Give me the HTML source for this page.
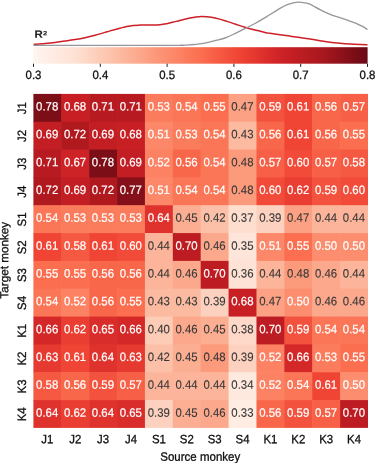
<!DOCTYPE html>
<html><head><meta charset="utf-8"><title>R2 heatmap</title>
<style>
html,body{margin:0;padding:0;background:#fff;}
body{width:375px;height:463px;overflow:hidden;}
svg{display:block;will-change:transform;}
text{font-family:"Liberation Sans",sans-serif;}
</style></head><body>
<svg width="375" height="463" viewBox="0 0 375 463">
<defs><linearGradient id="cb" x1="0" y1="0" x2="1" y2="0">
<stop offset="0.0000" stop-color="#fff5f1"/>
<stop offset="0.0312" stop-color="#fff0e9"/>
<stop offset="0.0625" stop-color="#ffebe2"/>
<stop offset="0.0938" stop-color="#fee6db"/>
<stop offset="0.1250" stop-color="#fee1d3"/>
<stop offset="0.1562" stop-color="#fed8c8"/>
<stop offset="0.1875" stop-color="#fdcfbc"/>
<stop offset="0.2188" stop-color="#fdc6b0"/>
<stop offset="0.2500" stop-color="#fcbda4"/>
<stop offset="0.2812" stop-color="#fcb399"/>
<stop offset="0.3125" stop-color="#fca98d"/>
<stop offset="0.3438" stop-color="#fc9f82"/>
<stop offset="0.3750" stop-color="#fc9577"/>
<stop offset="0.4062" stop-color="#fc8c6d"/>
<stop offset="0.4375" stop-color="#fc8263"/>
<stop offset="0.4688" stop-color="#fb7859"/>
<stop offset="0.5000" stop-color="#fb6f50"/>
<stop offset="0.5312" stop-color="#f86349"/>
<stop offset="0.5625" stop-color="#f55841"/>
<stop offset="0.5938" stop-color="#f24c3a"/>
<stop offset="0.6250" stop-color="#ee4133"/>
<stop offset="0.6562" stop-color="#e63930"/>
<stop offset="0.6875" stop-color="#dd302c"/>
<stop offset="0.7188" stop-color="#d42828"/>
<stop offset="0.7500" stop-color="#cb2025"/>
<stop offset="0.7812" stop-color="#c11e23"/>
<stop offset="0.8125" stop-color="#b81c21"/>
<stop offset="0.8438" stop-color="#ae191f"/>
<stop offset="0.8750" stop-color="#a4171d"/>
<stop offset="0.9062" stop-color="#95131b"/>
<stop offset="0.9375" stop-color="#861019"/>
<stop offset="0.9688" stop-color="#760c17"/>
<stop offset="1.0000" stop-color="#690916"/>
</linearGradient></defs>
<rect x="0" y="0" width="375" height="463" fill="#fff"/>
<rect x="33.2" y="47.2" width="334.4" height="16.5" fill="url(#cb)"/>
<path d="M33.80 44.30 C35.67 44.15 41.47 43.72 45.00 43.40 C48.53 43.08 51.67 42.78 55.00 42.40 C58.33 42.02 61.67 41.57 65.00 41.10 C68.33 40.63 71.67 40.17 75.00 39.60 C78.33 39.03 81.67 38.42 85.00 37.70 C88.33 36.98 91.67 36.18 95.00 35.30 C98.33 34.42 102.50 33.13 105.00 32.40 C107.50 31.67 107.50 31.58 110.00 30.90 C112.50 30.22 117.22 29.05 120.00 28.30 C122.78 27.55 124.48 26.88 126.70 26.40 C128.92 25.92 131.08 25.62 133.30 25.40 C135.52 25.18 137.22 25.17 140.00 25.10 C142.78 25.03 146.67 25.07 150.00 25.00 C153.33 24.93 157.22 24.92 160.00 24.70 C162.78 24.48 164.48 24.13 166.70 23.70 C168.92 23.27 171.08 22.65 173.30 22.10 C175.52 21.55 177.22 21.08 180.00 20.40 C182.78 19.72 187.33 18.58 190.00 18.00 C192.67 17.42 194.08 17.17 196.00 16.90 C197.92 16.63 199.67 16.42 201.50 16.40 C203.33 16.38 204.75 16.52 207.00 16.80 C209.25 17.08 212.00 17.45 215.00 18.10 C218.00 18.75 221.67 19.72 225.00 20.70 C228.33 21.68 231.67 22.90 235.00 24.00 C238.33 25.10 241.67 26.28 245.00 27.30 C248.33 28.32 251.67 29.25 255.00 30.10 C258.33 30.95 262.50 31.87 265.00 32.40 C267.50 32.93 267.50 32.90 270.00 33.30 C272.50 33.70 276.67 34.33 280.00 34.80 C283.33 35.27 286.67 35.65 290.00 36.10 C293.33 36.55 296.67 37.00 300.00 37.50 C303.33 38.00 306.67 38.57 310.00 39.10 C313.33 39.63 316.67 40.18 320.00 40.70 C323.33 41.22 326.67 41.77 330.00 42.20 C333.33 42.63 336.67 42.98 340.00 43.30 C343.33 43.62 346.67 43.88 350.00 44.10 C353.33 44.32 357.08 44.48 360.00 44.60 C362.92 44.72 366.25 44.77 367.50 44.80" fill="none" stroke="#cd1f27" stroke-width="1.5" stroke-linejoin="round"/>
<path d="M33.30 45.30 C56.08 45.30 145.38 45.32 170.00 45.30 C194.62 45.27 177.67 45.23 181.00 45.15 C184.33 45.07 186.83 45.01 190.00 44.80 C193.17 44.59 196.67 44.38 200.00 43.90 C203.33 43.42 207.50 42.43 210.00 41.90 C212.50 41.37 212.50 41.35 215.00 40.70 C217.50 40.05 221.67 39.18 225.00 38.00 C228.33 36.82 231.67 35.17 235.00 33.60 C238.33 32.03 241.67 30.28 245.00 28.60 C248.33 26.92 251.67 25.32 255.00 23.50 C258.33 21.68 262.50 19.20 265.00 17.70 C267.50 16.20 267.50 16.07 270.00 14.50 C272.50 12.93 277.22 9.92 280.00 8.30 C282.78 6.68 284.48 5.72 286.70 4.80 C288.92 3.88 291.30 3.25 293.30 2.80 C295.30 2.35 296.75 2.10 298.70 2.10 C300.65 2.10 303.12 2.45 305.00 2.80 C306.88 3.15 308.62 3.67 310.00 4.20 C311.38 4.73 311.63 5.10 313.30 6.00 C314.97 6.90 317.77 8.45 320.00 9.60 C322.23 10.75 324.48 11.90 326.70 12.90 C328.92 13.90 331.08 14.80 333.30 15.60 C335.52 16.40 338.05 17.07 340.00 17.70 C341.95 18.33 343.33 18.83 345.00 19.40 C346.67 19.97 348.33 20.52 350.00 21.10 C351.67 21.68 353.00 22.05 355.00 22.90 C357.00 23.75 359.92 25.10 362.00 26.20 C364.08 27.30 366.58 28.95 367.50 29.50" fill="none" stroke="#96969c" stroke-width="1.35" stroke-linejoin="round"/>
<text transform="translate(34.4 37.75) rotate(0.03) scale(1.1 1)" font-size="10.4" font-weight="bold" fill="#222" stroke="#222" stroke-width="0.12">R</text><text transform="translate(42.9 35.3) rotate(0.03) scale(1.25 1)" font-size="6.1" font-weight="bold" fill="#222" stroke="#222" stroke-width="0.1">2</text>
<rect x="33.00" y="63.7" width="1" height="3.2" fill="#222"/>
<text transform="translate(33.50 78.9) rotate(0.03) scale(0.975 1.035)" font-size="11.7" text-anchor="middle" fill="#111" stroke="#111" stroke-width="0.3">0.3</text>
<rect x="99.80" y="63.7" width="1" height="3.2" fill="#222"/>
<text transform="translate(100.30 78.9) rotate(0.03) scale(0.975 1.035)" font-size="11.7" text-anchor="middle" fill="#111" stroke="#111" stroke-width="0.3">0.4</text>
<rect x="166.60" y="63.7" width="1" height="3.2" fill="#222"/>
<text transform="translate(167.10 78.9) rotate(0.03) scale(0.975 1.035)" font-size="11.7" text-anchor="middle" fill="#111" stroke="#111" stroke-width="0.3">0.5</text>
<rect x="233.40" y="63.7" width="1" height="3.2" fill="#222"/>
<text transform="translate(233.90 78.9) rotate(0.03) scale(0.975 1.035)" font-size="11.7" text-anchor="middle" fill="#111" stroke="#111" stroke-width="0.3">0.6</text>
<rect x="300.20" y="63.7" width="1" height="3.2" fill="#222"/>
<text transform="translate(300.70 78.9) rotate(0.03) scale(0.975 1.035)" font-size="11.7" text-anchor="middle" fill="#111" stroke="#111" stroke-width="0.3">0.7</text>
<rect x="367.00" y="63.7" width="1" height="3.2" fill="#222"/>
<text transform="translate(367.50 78.9) rotate(0.03) scale(0.975 1.035)" font-size="11.7" text-anchor="middle" fill="#111" stroke="#111" stroke-width="0.3">0.8</text>
<rect x="33.40" y="93.90" width="28.48" height="28.43" fill="#7c0e18"/>
<rect x="61.28" y="93.90" width="28.48" height="28.43" fill="#c81f24"/>
<rect x="89.17" y="93.90" width="28.48" height="28.43" fill="#b71b21"/>
<rect x="117.05" y="93.90" width="28.48" height="28.43" fill="#b71b21"/>
<rect x="144.93" y="93.90" width="28.48" height="28.43" fill="#fb7c5d"/>
<rect x="172.82" y="93.90" width="28.48" height="28.43" fill="#fb7657"/>
<rect x="200.70" y="93.90" width="28.48" height="28.43" fill="#fb6f50"/>
<rect x="228.58" y="93.90" width="28.48" height="28.43" fill="#fca183"/>
<rect x="256.47" y="93.90" width="28.48" height="28.43" fill="#f3523e"/>
<rect x="284.35" y="93.90" width="28.48" height="28.43" fill="#f04435"/>
<rect x="312.23" y="93.90" width="28.48" height="28.43" fill="#f9674b"/>
<rect x="340.12" y="93.90" width="27.88" height="28.43" fill="#f76047"/>
<rect x="33.40" y="121.73" width="28.48" height="28.43" fill="#c21e23"/>
<rect x="61.28" y="121.73" width="28.48" height="28.43" fill="#b01a1f"/>
<rect x="89.17" y="121.73" width="28.48" height="28.43" fill="#c21e23"/>
<rect x="117.05" y="121.73" width="28.48" height="28.43" fill="#c81f24"/>
<rect x="144.93" y="121.73" width="28.48" height="28.43" fill="#fc8869"/>
<rect x="172.82" y="121.73" width="28.48" height="28.43" fill="#fb7c5d"/>
<rect x="200.70" y="121.73" width="28.48" height="28.43" fill="#fb7657"/>
<rect x="228.58" y="121.73" width="28.48" height="28.43" fill="#fcbba1"/>
<rect x="256.47" y="121.73" width="28.48" height="28.43" fill="#f9674b"/>
<rect x="284.35" y="121.73" width="28.48" height="28.43" fill="#f04435"/>
<rect x="312.23" y="121.73" width="28.48" height="28.43" fill="#f9674b"/>
<rect x="340.12" y="121.73" width="27.88" height="28.43" fill="#fb6f50"/>
<rect x="33.40" y="149.57" width="28.48" height="28.43" fill="#b71b21"/>
<rect x="61.28" y="149.57" width="28.48" height="28.43" fill="#ce2326"/>
<rect x="89.17" y="149.57" width="28.48" height="28.43" fill="#7c0e18"/>
<rect x="117.05" y="149.57" width="28.48" height="28.43" fill="#c21e23"/>
<rect x="144.93" y="149.57" width="28.48" height="28.43" fill="#fc8263"/>
<rect x="172.82" y="149.57" width="28.48" height="28.43" fill="#f9674b"/>
<rect x="200.70" y="149.57" width="28.48" height="28.43" fill="#fb7657"/>
<rect x="228.58" y="149.57" width="28.48" height="28.43" fill="#fc9a7c"/>
<rect x="256.47" y="149.57" width="28.48" height="28.43" fill="#f76047"/>
<rect x="284.35" y="149.57" width="28.48" height="28.43" fill="#f24b39"/>
<rect x="312.23" y="149.57" width="28.48" height="28.43" fill="#f76047"/>
<rect x="340.12" y="149.57" width="27.88" height="28.43" fill="#f55942"/>
<rect x="33.40" y="177.40" width="28.48" height="28.43" fill="#b01a1f"/>
<rect x="61.28" y="177.40" width="28.48" height="28.43" fill="#c21e23"/>
<rect x="89.17" y="177.40" width="28.48" height="28.43" fill="#b01a1f"/>
<rect x="117.05" y="177.40" width="28.48" height="28.43" fill="#861019"/>
<rect x="144.93" y="177.40" width="28.48" height="28.43" fill="#fc8869"/>
<rect x="172.82" y="177.40" width="28.48" height="28.43" fill="#fb7657"/>
<rect x="200.70" y="177.40" width="28.48" height="28.43" fill="#fb7657"/>
<rect x="228.58" y="177.40" width="28.48" height="28.43" fill="#fc9a7c"/>
<rect x="256.47" y="177.40" width="28.48" height="28.43" fill="#f24b39"/>
<rect x="284.35" y="177.40" width="28.48" height="28.43" fill="#eb3e32"/>
<rect x="312.23" y="177.40" width="28.48" height="28.43" fill="#f3523e"/>
<rect x="340.12" y="177.40" width="27.88" height="28.43" fill="#f24b39"/>
<rect x="33.40" y="205.23" width="28.48" height="28.43" fill="#fb7657"/>
<rect x="61.28" y="205.23" width="28.48" height="28.43" fill="#fb7c5d"/>
<rect x="89.17" y="205.23" width="28.48" height="28.43" fill="#fb7c5d"/>
<rect x="117.05" y="205.23" width="28.48" height="28.43" fill="#fb7c5d"/>
<rect x="144.93" y="205.23" width="28.48" height="28.43" fill="#df322d"/>
<rect x="172.82" y="205.23" width="28.48" height="28.43" fill="#fcae93"/>
<rect x="200.70" y="205.23" width="28.48" height="28.43" fill="#fcc0a8"/>
<rect x="228.58" y="205.23" width="28.48" height="28.43" fill="#fedecf"/>
<rect x="256.47" y="205.23" width="28.48" height="28.43" fill="#fdd1bf"/>
<rect x="284.35" y="205.23" width="28.48" height="28.43" fill="#fca183"/>
<rect x="312.23" y="205.23" width="28.48" height="28.43" fill="#fcb49a"/>
<rect x="340.12" y="205.23" width="27.88" height="28.43" fill="#fcb49a"/>
<rect x="33.40" y="233.07" width="28.48" height="28.43" fill="#f04435"/>
<rect x="61.28" y="233.07" width="28.48" height="28.43" fill="#f55942"/>
<rect x="89.17" y="233.07" width="28.48" height="28.43" fill="#f04435"/>
<rect x="117.05" y="233.07" width="28.48" height="28.43" fill="#f24b39"/>
<rect x="144.93" y="233.07" width="28.48" height="28.43" fill="#fcb49a"/>
<rect x="172.82" y="233.07" width="28.48" height="28.43" fill="#bd1d22"/>
<rect x="200.70" y="233.07" width="28.48" height="28.43" fill="#fca88c"/>
<rect x="228.58" y="233.07" width="28.48" height="28.43" fill="#fee5da"/>
<rect x="256.47" y="233.07" width="28.48" height="28.43" fill="#fc8869"/>
<rect x="284.35" y="233.07" width="28.48" height="28.43" fill="#fb6f50"/>
<rect x="312.23" y="233.07" width="28.48" height="28.43" fill="#fc8e6f"/>
<rect x="340.12" y="233.07" width="27.88" height="28.43" fill="#fc8e6f"/>
<rect x="33.40" y="260.90" width="28.48" height="28.43" fill="#fb6f50"/>
<rect x="61.28" y="260.90" width="28.48" height="28.43" fill="#fb6f50"/>
<rect x="89.17" y="260.90" width="28.48" height="28.43" fill="#f9674b"/>
<rect x="117.05" y="260.90" width="28.48" height="28.43" fill="#f9674b"/>
<rect x="144.93" y="260.90" width="28.48" height="28.43" fill="#fcb49a"/>
<rect x="172.82" y="260.90" width="28.48" height="28.43" fill="#fca88c"/>
<rect x="200.70" y="260.90" width="28.48" height="28.43" fill="#bd1d22"/>
<rect x="228.58" y="260.90" width="28.48" height="28.43" fill="#fee2d5"/>
<rect x="256.47" y="260.90" width="28.48" height="28.43" fill="#fcb49a"/>
<rect x="284.35" y="260.90" width="28.48" height="28.43" fill="#fc9a7c"/>
<rect x="312.23" y="260.90" width="28.48" height="28.43" fill="#fca88c"/>
<rect x="340.12" y="260.90" width="27.88" height="28.43" fill="#fcb49a"/>
<rect x="33.40" y="288.73" width="28.48" height="28.43" fill="#fb7657"/>
<rect x="61.28" y="288.73" width="28.48" height="28.43" fill="#fc8263"/>
<rect x="89.17" y="288.73" width="28.48" height="28.43" fill="#f9674b"/>
<rect x="117.05" y="288.73" width="28.48" height="28.43" fill="#fb6f50"/>
<rect x="144.93" y="288.73" width="28.48" height="28.43" fill="#fcbba1"/>
<rect x="172.82" y="288.73" width="28.48" height="28.43" fill="#fcbba1"/>
<rect x="200.70" y="288.73" width="28.48" height="28.43" fill="#fdd1bf"/>
<rect x="228.58" y="288.73" width="28.48" height="28.43" fill="#c81f24"/>
<rect x="256.47" y="288.73" width="28.48" height="28.43" fill="#fca183"/>
<rect x="284.35" y="288.73" width="28.48" height="28.43" fill="#fc8e6f"/>
<rect x="312.23" y="288.73" width="28.48" height="28.43" fill="#fca88c"/>
<rect x="340.12" y="288.73" width="27.88" height="28.43" fill="#fca88c"/>
<rect x="33.40" y="316.57" width="28.48" height="28.43" fill="#d42828"/>
<rect x="61.28" y="316.57" width="28.48" height="28.43" fill="#eb3e32"/>
<rect x="89.17" y="316.57" width="28.48" height="28.43" fill="#d92d2b"/>
<rect x="117.05" y="316.57" width="28.48" height="28.43" fill="#d42828"/>
<rect x="144.93" y="316.57" width="28.48" height="28.43" fill="#fdccb7"/>
<rect x="172.82" y="316.57" width="28.48" height="28.43" fill="#fca88c"/>
<rect x="200.70" y="316.57" width="28.48" height="28.43" fill="#fcae93"/>
<rect x="228.58" y="316.57" width="28.48" height="28.43" fill="#fed8c8"/>
<rect x="256.47" y="316.57" width="28.48" height="28.43" fill="#bd1d22"/>
<rect x="284.35" y="316.57" width="28.48" height="28.43" fill="#f3523e"/>
<rect x="312.23" y="316.57" width="28.48" height="28.43" fill="#fb7657"/>
<rect x="340.12" y="316.57" width="27.88" height="28.43" fill="#fb7657"/>
<rect x="33.40" y="344.40" width="28.48" height="28.43" fill="#e63930"/>
<rect x="61.28" y="344.40" width="28.48" height="28.43" fill="#f04435"/>
<rect x="89.17" y="344.40" width="28.48" height="28.43" fill="#df322d"/>
<rect x="117.05" y="344.40" width="28.48" height="28.43" fill="#e63930"/>
<rect x="144.93" y="344.40" width="28.48" height="28.43" fill="#fcc0a8"/>
<rect x="172.82" y="344.40" width="28.48" height="28.43" fill="#fcae93"/>
<rect x="200.70" y="344.40" width="28.48" height="28.43" fill="#fc9a7c"/>
<rect x="228.58" y="344.40" width="28.48" height="28.43" fill="#fdd1bf"/>
<rect x="256.47" y="344.40" width="28.48" height="28.43" fill="#fc8263"/>
<rect x="284.35" y="344.40" width="28.48" height="28.43" fill="#d42828"/>
<rect x="312.23" y="344.40" width="28.48" height="28.43" fill="#fb7c5d"/>
<rect x="340.12" y="344.40" width="27.88" height="28.43" fill="#fb6f50"/>
<rect x="33.40" y="372.23" width="28.48" height="28.43" fill="#f55942"/>
<rect x="61.28" y="372.23" width="28.48" height="28.43" fill="#f9674b"/>
<rect x="89.17" y="372.23" width="28.48" height="28.43" fill="#f3523e"/>
<rect x="117.05" y="372.23" width="28.48" height="28.43" fill="#f76047"/>
<rect x="144.93" y="372.23" width="28.48" height="28.43" fill="#fcb49a"/>
<rect x="172.82" y="372.23" width="28.48" height="28.43" fill="#fcb49a"/>
<rect x="200.70" y="372.23" width="28.48" height="28.43" fill="#fcb49a"/>
<rect x="228.58" y="372.23" width="28.48" height="28.43" fill="#fee9de"/>
<rect x="256.47" y="372.23" width="28.48" height="28.43" fill="#fc8263"/>
<rect x="284.35" y="372.23" width="28.48" height="28.43" fill="#fb7657"/>
<rect x="312.23" y="372.23" width="28.48" height="28.43" fill="#f04435"/>
<rect x="340.12" y="372.23" width="27.88" height="28.43" fill="#fc8e6f"/>
<rect x="33.40" y="400.07" width="28.48" height="27.83" fill="#df322d"/>
<rect x="61.28" y="400.07" width="28.48" height="27.83" fill="#eb3e32"/>
<rect x="89.17" y="400.07" width="28.48" height="27.83" fill="#df322d"/>
<rect x="117.05" y="400.07" width="28.48" height="27.83" fill="#d92d2b"/>
<rect x="144.93" y="400.07" width="28.48" height="27.83" fill="#fdd1bf"/>
<rect x="172.82" y="400.07" width="28.48" height="27.83" fill="#fcae93"/>
<rect x="200.70" y="400.07" width="28.48" height="27.83" fill="#fca88c"/>
<rect x="228.58" y="400.07" width="28.48" height="27.83" fill="#ffece3"/>
<rect x="256.47" y="400.07" width="28.48" height="27.83" fill="#f9674b"/>
<rect x="284.35" y="400.07" width="28.48" height="27.83" fill="#f3523e"/>
<rect x="312.23" y="400.07" width="28.48" height="27.83" fill="#f76047"/>
<rect x="340.12" y="400.07" width="27.88" height="27.83" fill="#bd1d22"/>
<text transform="translate(47.19 110.54) rotate(0.03) scale(0.975 1.035)" font-size="11.7" text-anchor="middle" fill="#fff" stroke="#fff" stroke-width="0.2">0.78</text>
<text transform="translate(75.07 110.54) rotate(0.03) scale(0.975 1.035)" font-size="11.7" text-anchor="middle" fill="#fff" stroke="#fff" stroke-width="0.2">0.68</text>
<text transform="translate(102.96 110.54) rotate(0.03) scale(0.975 1.035)" font-size="11.7" text-anchor="middle" fill="#fff" stroke="#fff" stroke-width="0.2">0.71</text>
<text transform="translate(130.84 110.54) rotate(0.03) scale(0.975 1.035)" font-size="11.7" text-anchor="middle" fill="#fff" stroke="#fff" stroke-width="0.2">0.71</text>
<text transform="translate(158.72 110.54) rotate(0.03) scale(0.975 1.035)" font-size="11.7" text-anchor="middle" fill="#fff" stroke="#fff" stroke-width="0.2">0.53</text>
<text transform="translate(186.61 110.54) rotate(0.03) scale(0.975 1.035)" font-size="11.7" text-anchor="middle" fill="#fff" stroke="#fff" stroke-width="0.2">0.54</text>
<text transform="translate(214.49 110.54) rotate(0.03) scale(0.975 1.035)" font-size="11.7" text-anchor="middle" fill="#fff" stroke="#fff" stroke-width="0.2">0.55</text>
<text transform="translate(242.38 110.54) rotate(0.03) scale(0.975 1.035)" font-size="11.7" text-anchor="middle" fill="#393939" stroke="#393939" stroke-width="0.12">0.47</text>
<text transform="translate(270.26 110.54) rotate(0.03) scale(0.975 1.035)" font-size="11.7" text-anchor="middle" fill="#fff" stroke="#fff" stroke-width="0.2">0.59</text>
<text transform="translate(298.14 110.54) rotate(0.03) scale(0.975 1.035)" font-size="11.7" text-anchor="middle" fill="#fff" stroke="#fff" stroke-width="0.2">0.61</text>
<text transform="translate(326.03 110.54) rotate(0.03) scale(0.975 1.035)" font-size="11.7" text-anchor="middle" fill="#fff" stroke="#fff" stroke-width="0.2">0.56</text>
<text transform="translate(353.91 110.54) rotate(0.03) scale(0.975 1.035)" font-size="11.7" text-anchor="middle" fill="#fff" stroke="#fff" stroke-width="0.2">0.57</text>
<text transform="translate(47.19 138.37) rotate(0.03) scale(0.975 1.035)" font-size="11.7" text-anchor="middle" fill="#fff" stroke="#fff" stroke-width="0.2">0.69</text>
<text transform="translate(75.07 138.37) rotate(0.03) scale(0.975 1.035)" font-size="11.7" text-anchor="middle" fill="#fff" stroke="#fff" stroke-width="0.2">0.72</text>
<text transform="translate(102.96 138.37) rotate(0.03) scale(0.975 1.035)" font-size="11.7" text-anchor="middle" fill="#fff" stroke="#fff" stroke-width="0.2">0.69</text>
<text transform="translate(130.84 138.37) rotate(0.03) scale(0.975 1.035)" font-size="11.7" text-anchor="middle" fill="#fff" stroke="#fff" stroke-width="0.2">0.68</text>
<text transform="translate(158.72 138.37) rotate(0.03) scale(0.975 1.035)" font-size="11.7" text-anchor="middle" fill="#fff" stroke="#fff" stroke-width="0.2">0.51</text>
<text transform="translate(186.61 138.37) rotate(0.03) scale(0.975 1.035)" font-size="11.7" text-anchor="middle" fill="#fff" stroke="#fff" stroke-width="0.2">0.53</text>
<text transform="translate(214.49 138.37) rotate(0.03) scale(0.975 1.035)" font-size="11.7" text-anchor="middle" fill="#fff" stroke="#fff" stroke-width="0.2">0.54</text>
<text transform="translate(242.38 138.37) rotate(0.03) scale(0.975 1.035)" font-size="11.7" text-anchor="middle" fill="#393939" stroke="#393939" stroke-width="0.12">0.43</text>
<text transform="translate(270.26 138.37) rotate(0.03) scale(0.975 1.035)" font-size="11.7" text-anchor="middle" fill="#fff" stroke="#fff" stroke-width="0.2">0.56</text>
<text transform="translate(298.14 138.37) rotate(0.03) scale(0.975 1.035)" font-size="11.7" text-anchor="middle" fill="#fff" stroke="#fff" stroke-width="0.2">0.61</text>
<text transform="translate(326.03 138.37) rotate(0.03) scale(0.975 1.035)" font-size="11.7" text-anchor="middle" fill="#fff" stroke="#fff" stroke-width="0.2">0.56</text>
<text transform="translate(353.91 138.37) rotate(0.03) scale(0.975 1.035)" font-size="11.7" text-anchor="middle" fill="#fff" stroke="#fff" stroke-width="0.2">0.55</text>
<text transform="translate(47.19 166.20) rotate(0.03) scale(0.975 1.035)" font-size="11.7" text-anchor="middle" fill="#fff" stroke="#fff" stroke-width="0.2">0.71</text>
<text transform="translate(75.07 166.20) rotate(0.03) scale(0.975 1.035)" font-size="11.7" text-anchor="middle" fill="#fff" stroke="#fff" stroke-width="0.2">0.67</text>
<text transform="translate(102.96 166.20) rotate(0.03) scale(0.975 1.035)" font-size="11.7" text-anchor="middle" fill="#fff" stroke="#fff" stroke-width="0.2">0.78</text>
<text transform="translate(130.84 166.20) rotate(0.03) scale(0.975 1.035)" font-size="11.7" text-anchor="middle" fill="#fff" stroke="#fff" stroke-width="0.2">0.69</text>
<text transform="translate(158.72 166.20) rotate(0.03) scale(0.975 1.035)" font-size="11.7" text-anchor="middle" fill="#fff" stroke="#fff" stroke-width="0.2">0.52</text>
<text transform="translate(186.61 166.20) rotate(0.03) scale(0.975 1.035)" font-size="11.7" text-anchor="middle" fill="#fff" stroke="#fff" stroke-width="0.2">0.56</text>
<text transform="translate(214.49 166.20) rotate(0.03) scale(0.975 1.035)" font-size="11.7" text-anchor="middle" fill="#fff" stroke="#fff" stroke-width="0.2">0.54</text>
<text transform="translate(242.38 166.20) rotate(0.03) scale(0.975 1.035)" font-size="11.7" text-anchor="middle" fill="#393939" stroke="#393939" stroke-width="0.12">0.48</text>
<text transform="translate(270.26 166.20) rotate(0.03) scale(0.975 1.035)" font-size="11.7" text-anchor="middle" fill="#fff" stroke="#fff" stroke-width="0.2">0.57</text>
<text transform="translate(298.14 166.20) rotate(0.03) scale(0.975 1.035)" font-size="11.7" text-anchor="middle" fill="#fff" stroke="#fff" stroke-width="0.2">0.60</text>
<text transform="translate(326.03 166.20) rotate(0.03) scale(0.975 1.035)" font-size="11.7" text-anchor="middle" fill="#fff" stroke="#fff" stroke-width="0.2">0.57</text>
<text transform="translate(353.91 166.20) rotate(0.03) scale(0.975 1.035)" font-size="11.7" text-anchor="middle" fill="#fff" stroke="#fff" stroke-width="0.2">0.58</text>
<text transform="translate(47.19 194.04) rotate(0.03) scale(0.975 1.035)" font-size="11.7" text-anchor="middle" fill="#fff" stroke="#fff" stroke-width="0.2">0.72</text>
<text transform="translate(75.07 194.04) rotate(0.03) scale(0.975 1.035)" font-size="11.7" text-anchor="middle" fill="#fff" stroke="#fff" stroke-width="0.2">0.69</text>
<text transform="translate(102.96 194.04) rotate(0.03) scale(0.975 1.035)" font-size="11.7" text-anchor="middle" fill="#fff" stroke="#fff" stroke-width="0.2">0.72</text>
<text transform="translate(130.84 194.04) rotate(0.03) scale(0.975 1.035)" font-size="11.7" text-anchor="middle" fill="#fff" stroke="#fff" stroke-width="0.2">0.77</text>
<text transform="translate(158.72 194.04) rotate(0.03) scale(0.975 1.035)" font-size="11.7" text-anchor="middle" fill="#fff" stroke="#fff" stroke-width="0.2">0.51</text>
<text transform="translate(186.61 194.04) rotate(0.03) scale(0.975 1.035)" font-size="11.7" text-anchor="middle" fill="#fff" stroke="#fff" stroke-width="0.2">0.54</text>
<text transform="translate(214.49 194.04) rotate(0.03) scale(0.975 1.035)" font-size="11.7" text-anchor="middle" fill="#fff" stroke="#fff" stroke-width="0.2">0.54</text>
<text transform="translate(242.38 194.04) rotate(0.03) scale(0.975 1.035)" font-size="11.7" text-anchor="middle" fill="#393939" stroke="#393939" stroke-width="0.12">0.48</text>
<text transform="translate(270.26 194.04) rotate(0.03) scale(0.975 1.035)" font-size="11.7" text-anchor="middle" fill="#fff" stroke="#fff" stroke-width="0.2">0.60</text>
<text transform="translate(298.14 194.04) rotate(0.03) scale(0.975 1.035)" font-size="11.7" text-anchor="middle" fill="#fff" stroke="#fff" stroke-width="0.2">0.62</text>
<text transform="translate(326.03 194.04) rotate(0.03) scale(0.975 1.035)" font-size="11.7" text-anchor="middle" fill="#fff" stroke="#fff" stroke-width="0.2">0.59</text>
<text transform="translate(353.91 194.04) rotate(0.03) scale(0.975 1.035)" font-size="11.7" text-anchor="middle" fill="#fff" stroke="#fff" stroke-width="0.2">0.60</text>
<text transform="translate(47.19 221.87) rotate(0.03) scale(0.975 1.035)" font-size="11.7" text-anchor="middle" fill="#fff" stroke="#fff" stroke-width="0.2">0.54</text>
<text transform="translate(75.07 221.87) rotate(0.03) scale(0.975 1.035)" font-size="11.7" text-anchor="middle" fill="#fff" stroke="#fff" stroke-width="0.2">0.53</text>
<text transform="translate(102.96 221.87) rotate(0.03) scale(0.975 1.035)" font-size="11.7" text-anchor="middle" fill="#fff" stroke="#fff" stroke-width="0.2">0.53</text>
<text transform="translate(130.84 221.87) rotate(0.03) scale(0.975 1.035)" font-size="11.7" text-anchor="middle" fill="#fff" stroke="#fff" stroke-width="0.2">0.53</text>
<text transform="translate(158.72 221.87) rotate(0.03) scale(0.975 1.035)" font-size="11.7" text-anchor="middle" fill="#fff" stroke="#fff" stroke-width="0.2">0.64</text>
<text transform="translate(186.61 221.87) rotate(0.03) scale(0.975 1.035)" font-size="11.7" text-anchor="middle" fill="#393939" stroke="#393939" stroke-width="0.12">0.45</text>
<text transform="translate(214.49 221.87) rotate(0.03) scale(0.975 1.035)" font-size="11.7" text-anchor="middle" fill="#393939" stroke="#393939" stroke-width="0.12">0.42</text>
<text transform="translate(242.38 221.87) rotate(0.03) scale(0.975 1.035)" font-size="11.7" text-anchor="middle" fill="#393939" stroke="#393939" stroke-width="0.12">0.37</text>
<text transform="translate(270.26 221.87) rotate(0.03) scale(0.975 1.035)" font-size="11.7" text-anchor="middle" fill="#393939" stroke="#393939" stroke-width="0.12">0.39</text>
<text transform="translate(298.14 221.87) rotate(0.03) scale(0.975 1.035)" font-size="11.7" text-anchor="middle" fill="#393939" stroke="#393939" stroke-width="0.12">0.47</text>
<text transform="translate(326.03 221.87) rotate(0.03) scale(0.975 1.035)" font-size="11.7" text-anchor="middle" fill="#393939" stroke="#393939" stroke-width="0.12">0.44</text>
<text transform="translate(353.91 221.87) rotate(0.03) scale(0.975 1.035)" font-size="11.7" text-anchor="middle" fill="#393939" stroke="#393939" stroke-width="0.12">0.44</text>
<text transform="translate(47.19 249.70) rotate(0.03) scale(0.975 1.035)" font-size="11.7" text-anchor="middle" fill="#fff" stroke="#fff" stroke-width="0.2">0.61</text>
<text transform="translate(75.07 249.70) rotate(0.03) scale(0.975 1.035)" font-size="11.7" text-anchor="middle" fill="#fff" stroke="#fff" stroke-width="0.2">0.58</text>
<text transform="translate(102.96 249.70) rotate(0.03) scale(0.975 1.035)" font-size="11.7" text-anchor="middle" fill="#fff" stroke="#fff" stroke-width="0.2">0.61</text>
<text transform="translate(130.84 249.70) rotate(0.03) scale(0.975 1.035)" font-size="11.7" text-anchor="middle" fill="#fff" stroke="#fff" stroke-width="0.2">0.60</text>
<text transform="translate(158.72 249.70) rotate(0.03) scale(0.975 1.035)" font-size="11.7" text-anchor="middle" fill="#393939" stroke="#393939" stroke-width="0.12">0.44</text>
<text transform="translate(186.61 249.70) rotate(0.03) scale(0.975 1.035)" font-size="11.7" text-anchor="middle" fill="#fff" stroke="#fff" stroke-width="0.2">0.70</text>
<text transform="translate(214.49 249.70) rotate(0.03) scale(0.975 1.035)" font-size="11.7" text-anchor="middle" fill="#393939" stroke="#393939" stroke-width="0.12">0.46</text>
<text transform="translate(242.38 249.70) rotate(0.03) scale(0.975 1.035)" font-size="11.7" text-anchor="middle" fill="#393939" stroke="#393939" stroke-width="0.12">0.35</text>
<text transform="translate(270.26 249.70) rotate(0.03) scale(0.975 1.035)" font-size="11.7" text-anchor="middle" fill="#fff" stroke="#fff" stroke-width="0.2">0.51</text>
<text transform="translate(298.14 249.70) rotate(0.03) scale(0.975 1.035)" font-size="11.7" text-anchor="middle" fill="#fff" stroke="#fff" stroke-width="0.2">0.55</text>
<text transform="translate(326.03 249.70) rotate(0.03) scale(0.975 1.035)" font-size="11.7" text-anchor="middle" fill="#fff" stroke="#fff" stroke-width="0.2">0.50</text>
<text transform="translate(353.91 249.70) rotate(0.03) scale(0.975 1.035)" font-size="11.7" text-anchor="middle" fill="#fff" stroke="#fff" stroke-width="0.2">0.50</text>
<text transform="translate(47.19 277.54) rotate(0.03) scale(0.975 1.035)" font-size="11.7" text-anchor="middle" fill="#fff" stroke="#fff" stroke-width="0.2">0.55</text>
<text transform="translate(75.07 277.54) rotate(0.03) scale(0.975 1.035)" font-size="11.7" text-anchor="middle" fill="#fff" stroke="#fff" stroke-width="0.2">0.55</text>
<text transform="translate(102.96 277.54) rotate(0.03) scale(0.975 1.035)" font-size="11.7" text-anchor="middle" fill="#fff" stroke="#fff" stroke-width="0.2">0.56</text>
<text transform="translate(130.84 277.54) rotate(0.03) scale(0.975 1.035)" font-size="11.7" text-anchor="middle" fill="#fff" stroke="#fff" stroke-width="0.2">0.56</text>
<text transform="translate(158.72 277.54) rotate(0.03) scale(0.975 1.035)" font-size="11.7" text-anchor="middle" fill="#393939" stroke="#393939" stroke-width="0.12">0.44</text>
<text transform="translate(186.61 277.54) rotate(0.03) scale(0.975 1.035)" font-size="11.7" text-anchor="middle" fill="#393939" stroke="#393939" stroke-width="0.12">0.46</text>
<text transform="translate(214.49 277.54) rotate(0.03) scale(0.975 1.035)" font-size="11.7" text-anchor="middle" fill="#fff" stroke="#fff" stroke-width="0.2">0.70</text>
<text transform="translate(242.38 277.54) rotate(0.03) scale(0.975 1.035)" font-size="11.7" text-anchor="middle" fill="#393939" stroke="#393939" stroke-width="0.12">0.36</text>
<text transform="translate(270.26 277.54) rotate(0.03) scale(0.975 1.035)" font-size="11.7" text-anchor="middle" fill="#393939" stroke="#393939" stroke-width="0.12">0.44</text>
<text transform="translate(298.14 277.54) rotate(0.03) scale(0.975 1.035)" font-size="11.7" text-anchor="middle" fill="#393939" stroke="#393939" stroke-width="0.12">0.48</text>
<text transform="translate(326.03 277.54) rotate(0.03) scale(0.975 1.035)" font-size="11.7" text-anchor="middle" fill="#393939" stroke="#393939" stroke-width="0.12">0.46</text>
<text transform="translate(353.91 277.54) rotate(0.03) scale(0.975 1.035)" font-size="11.7" text-anchor="middle" fill="#393939" stroke="#393939" stroke-width="0.12">0.44</text>
<text transform="translate(47.19 305.37) rotate(0.03) scale(0.975 1.035)" font-size="11.7" text-anchor="middle" fill="#fff" stroke="#fff" stroke-width="0.2">0.54</text>
<text transform="translate(75.07 305.37) rotate(0.03) scale(0.975 1.035)" font-size="11.7" text-anchor="middle" fill="#fff" stroke="#fff" stroke-width="0.2">0.52</text>
<text transform="translate(102.96 305.37) rotate(0.03) scale(0.975 1.035)" font-size="11.7" text-anchor="middle" fill="#fff" stroke="#fff" stroke-width="0.2">0.56</text>
<text transform="translate(130.84 305.37) rotate(0.03) scale(0.975 1.035)" font-size="11.7" text-anchor="middle" fill="#fff" stroke="#fff" stroke-width="0.2">0.55</text>
<text transform="translate(158.72 305.37) rotate(0.03) scale(0.975 1.035)" font-size="11.7" text-anchor="middle" fill="#393939" stroke="#393939" stroke-width="0.12">0.43</text>
<text transform="translate(186.61 305.37) rotate(0.03) scale(0.975 1.035)" font-size="11.7" text-anchor="middle" fill="#393939" stroke="#393939" stroke-width="0.12">0.43</text>
<text transform="translate(214.49 305.37) rotate(0.03) scale(0.975 1.035)" font-size="11.7" text-anchor="middle" fill="#393939" stroke="#393939" stroke-width="0.12">0.39</text>
<text transform="translate(242.38 305.37) rotate(0.03) scale(0.975 1.035)" font-size="11.7" text-anchor="middle" fill="#fff" stroke="#fff" stroke-width="0.2">0.68</text>
<text transform="translate(270.26 305.37) rotate(0.03) scale(0.975 1.035)" font-size="11.7" text-anchor="middle" fill="#393939" stroke="#393939" stroke-width="0.12">0.47</text>
<text transform="translate(298.14 305.37) rotate(0.03) scale(0.975 1.035)" font-size="11.7" text-anchor="middle" fill="#fff" stroke="#fff" stroke-width="0.2">0.50</text>
<text transform="translate(326.03 305.37) rotate(0.03) scale(0.975 1.035)" font-size="11.7" text-anchor="middle" fill="#393939" stroke="#393939" stroke-width="0.12">0.46</text>
<text transform="translate(353.91 305.37) rotate(0.03) scale(0.975 1.035)" font-size="11.7" text-anchor="middle" fill="#393939" stroke="#393939" stroke-width="0.12">0.46</text>
<text transform="translate(47.19 333.20) rotate(0.03) scale(0.975 1.035)" font-size="11.7" text-anchor="middle" fill="#fff" stroke="#fff" stroke-width="0.2">0.66</text>
<text transform="translate(75.07 333.20) rotate(0.03) scale(0.975 1.035)" font-size="11.7" text-anchor="middle" fill="#fff" stroke="#fff" stroke-width="0.2">0.62</text>
<text transform="translate(102.96 333.20) rotate(0.03) scale(0.975 1.035)" font-size="11.7" text-anchor="middle" fill="#fff" stroke="#fff" stroke-width="0.2">0.65</text>
<text transform="translate(130.84 333.20) rotate(0.03) scale(0.975 1.035)" font-size="11.7" text-anchor="middle" fill="#fff" stroke="#fff" stroke-width="0.2">0.66</text>
<text transform="translate(158.72 333.20) rotate(0.03) scale(0.975 1.035)" font-size="11.7" text-anchor="middle" fill="#393939" stroke="#393939" stroke-width="0.12">0.40</text>
<text transform="translate(186.61 333.20) rotate(0.03) scale(0.975 1.035)" font-size="11.7" text-anchor="middle" fill="#393939" stroke="#393939" stroke-width="0.12">0.46</text>
<text transform="translate(214.49 333.20) rotate(0.03) scale(0.975 1.035)" font-size="11.7" text-anchor="middle" fill="#393939" stroke="#393939" stroke-width="0.12">0.45</text>
<text transform="translate(242.38 333.20) rotate(0.03) scale(0.975 1.035)" font-size="11.7" text-anchor="middle" fill="#393939" stroke="#393939" stroke-width="0.12">0.38</text>
<text transform="translate(270.26 333.20) rotate(0.03) scale(0.975 1.035)" font-size="11.7" text-anchor="middle" fill="#fff" stroke="#fff" stroke-width="0.2">0.70</text>
<text transform="translate(298.14 333.20) rotate(0.03) scale(0.975 1.035)" font-size="11.7" text-anchor="middle" fill="#fff" stroke="#fff" stroke-width="0.2">0.59</text>
<text transform="translate(326.03 333.20) rotate(0.03) scale(0.975 1.035)" font-size="11.7" text-anchor="middle" fill="#fff" stroke="#fff" stroke-width="0.2">0.54</text>
<text transform="translate(353.91 333.20) rotate(0.03) scale(0.975 1.035)" font-size="11.7" text-anchor="middle" fill="#fff" stroke="#fff" stroke-width="0.2">0.54</text>
<text transform="translate(47.19 361.04) rotate(0.03) scale(0.975 1.035)" font-size="11.7" text-anchor="middle" fill="#fff" stroke="#fff" stroke-width="0.2">0.63</text>
<text transform="translate(75.07 361.04) rotate(0.03) scale(0.975 1.035)" font-size="11.7" text-anchor="middle" fill="#fff" stroke="#fff" stroke-width="0.2">0.61</text>
<text transform="translate(102.96 361.04) rotate(0.03) scale(0.975 1.035)" font-size="11.7" text-anchor="middle" fill="#fff" stroke="#fff" stroke-width="0.2">0.64</text>
<text transform="translate(130.84 361.04) rotate(0.03) scale(0.975 1.035)" font-size="11.7" text-anchor="middle" fill="#fff" stroke="#fff" stroke-width="0.2">0.63</text>
<text transform="translate(158.72 361.04) rotate(0.03) scale(0.975 1.035)" font-size="11.7" text-anchor="middle" fill="#393939" stroke="#393939" stroke-width="0.12">0.42</text>
<text transform="translate(186.61 361.04) rotate(0.03) scale(0.975 1.035)" font-size="11.7" text-anchor="middle" fill="#393939" stroke="#393939" stroke-width="0.12">0.45</text>
<text transform="translate(214.49 361.04) rotate(0.03) scale(0.975 1.035)" font-size="11.7" text-anchor="middle" fill="#393939" stroke="#393939" stroke-width="0.12">0.48</text>
<text transform="translate(242.38 361.04) rotate(0.03) scale(0.975 1.035)" font-size="11.7" text-anchor="middle" fill="#393939" stroke="#393939" stroke-width="0.12">0.39</text>
<text transform="translate(270.26 361.04) rotate(0.03) scale(0.975 1.035)" font-size="11.7" text-anchor="middle" fill="#fff" stroke="#fff" stroke-width="0.2">0.52</text>
<text transform="translate(298.14 361.04) rotate(0.03) scale(0.975 1.035)" font-size="11.7" text-anchor="middle" fill="#fff" stroke="#fff" stroke-width="0.2">0.66</text>
<text transform="translate(326.03 361.04) rotate(0.03) scale(0.975 1.035)" font-size="11.7" text-anchor="middle" fill="#fff" stroke="#fff" stroke-width="0.2">0.53</text>
<text transform="translate(353.91 361.04) rotate(0.03) scale(0.975 1.035)" font-size="11.7" text-anchor="middle" fill="#fff" stroke="#fff" stroke-width="0.2">0.55</text>
<text transform="translate(47.19 388.87) rotate(0.03) scale(0.975 1.035)" font-size="11.7" text-anchor="middle" fill="#fff" stroke="#fff" stroke-width="0.2">0.58</text>
<text transform="translate(75.07 388.87) rotate(0.03) scale(0.975 1.035)" font-size="11.7" text-anchor="middle" fill="#fff" stroke="#fff" stroke-width="0.2">0.56</text>
<text transform="translate(102.96 388.87) rotate(0.03) scale(0.975 1.035)" font-size="11.7" text-anchor="middle" fill="#fff" stroke="#fff" stroke-width="0.2">0.59</text>
<text transform="translate(130.84 388.87) rotate(0.03) scale(0.975 1.035)" font-size="11.7" text-anchor="middle" fill="#fff" stroke="#fff" stroke-width="0.2">0.57</text>
<text transform="translate(158.72 388.87) rotate(0.03) scale(0.975 1.035)" font-size="11.7" text-anchor="middle" fill="#393939" stroke="#393939" stroke-width="0.12">0.44</text>
<text transform="translate(186.61 388.87) rotate(0.03) scale(0.975 1.035)" font-size="11.7" text-anchor="middle" fill="#393939" stroke="#393939" stroke-width="0.12">0.44</text>
<text transform="translate(214.49 388.87) rotate(0.03) scale(0.975 1.035)" font-size="11.7" text-anchor="middle" fill="#393939" stroke="#393939" stroke-width="0.12">0.44</text>
<text transform="translate(242.38 388.87) rotate(0.03) scale(0.975 1.035)" font-size="11.7" text-anchor="middle" fill="#393939" stroke="#393939" stroke-width="0.12">0.34</text>
<text transform="translate(270.26 388.87) rotate(0.03) scale(0.975 1.035)" font-size="11.7" text-anchor="middle" fill="#fff" stroke="#fff" stroke-width="0.2">0.52</text>
<text transform="translate(298.14 388.87) rotate(0.03) scale(0.975 1.035)" font-size="11.7" text-anchor="middle" fill="#fff" stroke="#fff" stroke-width="0.2">0.54</text>
<text transform="translate(326.03 388.87) rotate(0.03) scale(0.975 1.035)" font-size="11.7" text-anchor="middle" fill="#fff" stroke="#fff" stroke-width="0.2">0.61</text>
<text transform="translate(353.91 388.87) rotate(0.03) scale(0.975 1.035)" font-size="11.7" text-anchor="middle" fill="#fff" stroke="#fff" stroke-width="0.2">0.50</text>
<text transform="translate(47.19 416.70) rotate(0.03) scale(0.975 1.035)" font-size="11.7" text-anchor="middle" fill="#fff" stroke="#fff" stroke-width="0.2">0.64</text>
<text transform="translate(75.07 416.70) rotate(0.03) scale(0.975 1.035)" font-size="11.7" text-anchor="middle" fill="#fff" stroke="#fff" stroke-width="0.2">0.62</text>
<text transform="translate(102.96 416.70) rotate(0.03) scale(0.975 1.035)" font-size="11.7" text-anchor="middle" fill="#fff" stroke="#fff" stroke-width="0.2">0.64</text>
<text transform="translate(130.84 416.70) rotate(0.03) scale(0.975 1.035)" font-size="11.7" text-anchor="middle" fill="#fff" stroke="#fff" stroke-width="0.2">0.65</text>
<text transform="translate(158.72 416.70) rotate(0.03) scale(0.975 1.035)" font-size="11.7" text-anchor="middle" fill="#393939" stroke="#393939" stroke-width="0.12">0.39</text>
<text transform="translate(186.61 416.70) rotate(0.03) scale(0.975 1.035)" font-size="11.7" text-anchor="middle" fill="#393939" stroke="#393939" stroke-width="0.12">0.45</text>
<text transform="translate(214.49 416.70) rotate(0.03) scale(0.975 1.035)" font-size="11.7" text-anchor="middle" fill="#393939" stroke="#393939" stroke-width="0.12">0.46</text>
<text transform="translate(242.38 416.70) rotate(0.03) scale(0.975 1.035)" font-size="11.7" text-anchor="middle" fill="#393939" stroke="#393939" stroke-width="0.12">0.33</text>
<text transform="translate(270.26 416.70) rotate(0.03) scale(0.975 1.035)" font-size="11.7" text-anchor="middle" fill="#fff" stroke="#fff" stroke-width="0.2">0.56</text>
<text transform="translate(298.14 416.70) rotate(0.03) scale(0.975 1.035)" font-size="11.7" text-anchor="middle" fill="#fff" stroke="#fff" stroke-width="0.2">0.59</text>
<text transform="translate(326.03 416.70) rotate(0.03) scale(0.975 1.035)" font-size="11.7" text-anchor="middle" fill="#fff" stroke="#fff" stroke-width="0.2">0.57</text>
<text transform="translate(353.91 416.70) rotate(0.03) scale(0.975 1.035)" font-size="11.7" text-anchor="middle" fill="#fff" stroke="#fff" stroke-width="0.2">0.70</text>
<text transform="translate(47.34 443.3) rotate(0.03) scale(0.975 1.035)" font-size="11.7" text-anchor="middle" fill="#111" stroke="#111" stroke-width="0.3">J1</text>
<text transform="translate(75.22 443.3) rotate(0.03) scale(0.975 1.035)" font-size="11.7" text-anchor="middle" fill="#111" stroke="#111" stroke-width="0.3">J2</text>
<text transform="translate(103.11 443.3) rotate(0.03) scale(0.975 1.035)" font-size="11.7" text-anchor="middle" fill="#111" stroke="#111" stroke-width="0.3">J3</text>
<text transform="translate(130.99 443.3) rotate(0.03) scale(0.975 1.035)" font-size="11.7" text-anchor="middle" fill="#111" stroke="#111" stroke-width="0.3">J4</text>
<text transform="translate(158.88 443.3) rotate(0.03) scale(0.975 1.035)" font-size="11.7" text-anchor="middle" fill="#111" stroke="#111" stroke-width="0.3">S1</text>
<text transform="translate(186.76 443.3) rotate(0.03) scale(0.975 1.035)" font-size="11.7" text-anchor="middle" fill="#111" stroke="#111" stroke-width="0.3">S2</text>
<text transform="translate(214.64 443.3) rotate(0.03) scale(0.975 1.035)" font-size="11.7" text-anchor="middle" fill="#111" stroke="#111" stroke-width="0.3">S3</text>
<text transform="translate(242.53 443.3) rotate(0.03) scale(0.975 1.035)" font-size="11.7" text-anchor="middle" fill="#111" stroke="#111" stroke-width="0.3">S4</text>
<text transform="translate(270.41 443.3) rotate(0.03) scale(0.975 1.035)" font-size="11.7" text-anchor="middle" fill="#111" stroke="#111" stroke-width="0.3">K1</text>
<text transform="translate(298.29 443.3) rotate(0.03) scale(0.975 1.035)" font-size="11.7" text-anchor="middle" fill="#111" stroke="#111" stroke-width="0.3">K2</text>
<text transform="translate(326.18 443.3) rotate(0.03) scale(0.975 1.035)" font-size="11.7" text-anchor="middle" fill="#111" stroke="#111" stroke-width="0.3">K3</text>
<text transform="translate(354.06 443.3) rotate(0.03) scale(0.975 1.035)" font-size="11.7" text-anchor="middle" fill="#111" stroke="#111" stroke-width="0.3">K4</text>
<text transform="translate(200.2 460.8) rotate(0.03) scale(0.985 1.035)" font-size="11.7" text-anchor="middle" fill="#111" stroke="#111" stroke-width="0.3">Source monkey</text>
<text transform="translate(26 108.12) rotate(-90.03) scale(0.975 1.035)" font-size="11.7" text-anchor="middle" fill="#111" stroke="#111" stroke-width="0.3">J1</text>
<text transform="translate(26 135.95) rotate(-90.03) scale(0.975 1.035)" font-size="11.7" text-anchor="middle" fill="#111" stroke="#111" stroke-width="0.3">J2</text>
<text transform="translate(26 163.78) rotate(-90.03) scale(0.975 1.035)" font-size="11.7" text-anchor="middle" fill="#111" stroke="#111" stroke-width="0.3">J3</text>
<text transform="translate(26 191.62) rotate(-90.03) scale(0.975 1.035)" font-size="11.7" text-anchor="middle" fill="#111" stroke="#111" stroke-width="0.3">J4</text>
<text transform="translate(26 219.45) rotate(-90.03) scale(0.975 1.035)" font-size="11.7" text-anchor="middle" fill="#111" stroke="#111" stroke-width="0.3">S1</text>
<text transform="translate(26 247.28) rotate(-90.03) scale(0.975 1.035)" font-size="11.7" text-anchor="middle" fill="#111" stroke="#111" stroke-width="0.3">S2</text>
<text transform="translate(26 275.12) rotate(-90.03) scale(0.975 1.035)" font-size="11.7" text-anchor="middle" fill="#111" stroke="#111" stroke-width="0.3">S3</text>
<text transform="translate(26 302.95) rotate(-90.03) scale(0.975 1.035)" font-size="11.7" text-anchor="middle" fill="#111" stroke="#111" stroke-width="0.3">S4</text>
<text transform="translate(26 330.78) rotate(-90.03) scale(0.975 1.035)" font-size="11.7" text-anchor="middle" fill="#111" stroke="#111" stroke-width="0.3">K1</text>
<text transform="translate(26 358.62) rotate(-90.03) scale(0.975 1.035)" font-size="11.7" text-anchor="middle" fill="#111" stroke="#111" stroke-width="0.3">K2</text>
<text transform="translate(26 386.45) rotate(-90.03) scale(0.975 1.035)" font-size="11.7" text-anchor="middle" fill="#111" stroke="#111" stroke-width="0.3">K3</text>
<text transform="translate(26 414.28) rotate(-90.03) scale(0.975 1.035)" font-size="11.7" text-anchor="middle" fill="#111" stroke="#111" stroke-width="0.3">K4</text>
<text transform="translate(8.3 260.2) rotate(-90.03) scale(1.0 1.0)" font-size="11.7" text-anchor="middle" fill="#111" stroke="#111" stroke-width="0.3">Target monkey</text>
</svg></body></html>
